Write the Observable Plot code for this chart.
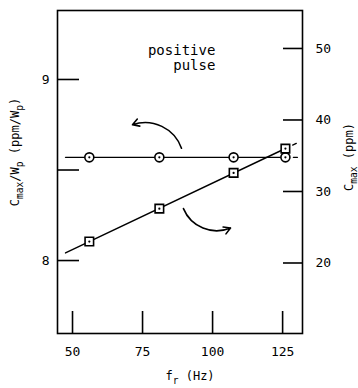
<!DOCTYPE html>
<html><head><meta charset="utf-8">
<script src="https://cdn.jsdelivr.net/npm/d3@7"></script>
<script src="https://cdn.jsdelivr.net/npm/@observablehq/plot@0.6"></script>
<style>body{margin:0;background:#fff}</style>
</head><body><div id="chart"></div>
<script>
// ---- data ----
const fr = [56, 81, 107.5, 126];              // Hz
const cmaxPerWp = [8.57, 8.57, 8.57, 8.57];   // ppm/Wp (circles, left axis)
const cmax = [23.0, 27.6, 32.6, 36.0];        // ppm (squares, right axis)
const xTicks = [50, 75, 100, 125];
const leftTicks = [8, 8.5, 9];
const leftTickLabels = ["8", "", "9"];
const rightTicks = [20, 30, 40, 50];
const fitRange = [47.5, 130.5];
const noteText = ["positive\npulse"];
const noteX = [101];
const noteY = [9.12];
const arrowX1 = [88.9, 89.6], arrowY1 = [8.62, 8.287];
const arrowX2 = [71.4, 106.4], arrowY2 = [8.75, 8.18];

const xDomain = [44.64, 132.1];
const yDomain = [7.597, 9.381];
const rightDomain = [10.14, 55.31];
const yRight = d3.scaleLinear().domain(rightDomain).range(yDomain);

// fits
const meanC = d3.mean(cmaxPerWp);
const mx = d3.mean(fr), my = d3.mean(cmax);
const slope = d3.sum(fr, (x, i) => (x - mx) * (cmax[i] - my)) / d3.sum(fr, x => (x - mx) ** 2);
const fitSq = x => yRight(my + slope * (x - mx));
const last = fr[fr.length - 1];
const circSolid = [fitRange[0], last].map(x => ({x, y: meanC}));
const circDash = [last, fitRange[1]].map(x => ({x, y: meanC}));
const sqSolid = [fitRange[0], last].map(x => ({x, y: fitSq(x)}));
const sqDash = [last, fitRange[1]].map(x => ({x, y: fitSq(x)}));

const circles = fr.map((x, i) => ({x, y: cmaxPerWp[i]}));
const squares = fr.map((x, i) => ({x, y: yRight(cmax[i])}));
const arrows = arrowX1.map((x1, i) => ({x1, y1: arrowY1[i], x2: arrowX2[i], y2: arrowY2[i]}));

const FONT = "DejaVu Sans Mono";
const plot = Plot.plot({
  width: 358, height: 388,
  marginLeft: 57, marginRight: 56, marginTop: 10, marginBottom: 55,
  style: {fontFamily: FONT, fontSize: "13px", color: "black", background: "white"},
  x: {domain: xDomain},
  y: {domain: yDomain},
  marks: [
    Plot.frame({stroke: "black", strokeWidth: 1.6}),
    Plot.axisX(xTicks, {tickSize: -22, tickFormat: () => "", label: null, strokeWidth: 1.6}),
    Plot.axisX(xTicks, {tickSize: 0, tickPadding: 13, label: null}),
    Plot.axisY(leftTicks, {tickSize: -22, tickFormat: () => "", label: null, strokeWidth: 1.6}),
    Plot.axisY(leftTicks, {tickSize: 0, tickPadding: 8, label: null, tickFormat: d => leftTickLabels[leftTicks.indexOf(d)]}),
    Plot.axisY(rightTicks.map(yRight), {anchor: "right", tickSize: -20, tickFormat: () => "", label: null, strokeWidth: 1.6}),
    Plot.axisY(rightTicks.map(yRight), {anchor: "right", tickSize: 0, tickPadding: 13, label: null, tickFormat: d => Math.round(yRight.invert(d))}),
    Plot.line(circSolid, {x: "x", y: "y", stroke: "black", strokeWidth: 1.4}),
    Plot.line(circDash, {x: "x", y: "y", stroke: "black", strokeWidth: 1.4, strokeDasharray: "4,4"}),
    Plot.line(sqSolid, {x: "x", y: "y", stroke: "black", strokeWidth: 1.4}),
    Plot.line(sqDash, {x: "x", y: "y", stroke: "black", strokeWidth: 1.4, strokeDasharray: "4,4"}),
    Plot.dot(circles, {x: "x", y: "y", r: 4.5, fill: "white", stroke: "black", strokeWidth: 1.6}),
    Plot.dot(circles, {x: "x", y: "y", r: 1.1, fill: "black"}),
    Plot.dot(squares, {x: "x", y: "y", r: 4.8, symbol: "square", fill: "white", stroke: "black", strokeWidth: 1.6}),
    Plot.dot(squares, {x: "x", y: "y", r: 1.1, fill: "black"}),
    Plot.arrow(arrows, {x1: "x1", y1: "y1", x2: "x2", y2: "y2", bend: -45, stroke: "black", strokeWidth: 1.6, headLength: 7}),
    Plot.text(noteText, {x: noteX, y: noteY, text: d => d, textAnchor: "end", lineAnchor: "middle", fontSize: 14, lineHeight: 1.1, fill: "black"})
  ]
});

const svg = d3.select(plot);
function addTitle(x, y, rotate, parts, size) {
  const t = svg.append("text")
    .attr("transform", `translate(${x},${y}) rotate(${rotate})`)
    .attr("text-anchor", "middle")
    .attr("dy", "0.35em")
    .attr("font-family", FONT)
    .attr("font-size", size)
    .attr("fill", "black");
  let shifted = false;
  parts.forEach(([s, sub]) => {
    const ts = t.append("tspan").text(s);
    if (sub && !shifted) { ts.attr("dy", size * 0.3).attr("font-size", size * 0.8); shifted = true; }
    else if (sub) { ts.attr("font-size", size * 0.8); }
    else if (shifted) { ts.attr("dy", -size * 0.3); shifted = false; }
  });
}
addTitle(15, 152, -90, [["C"], ["max", 1], ["/W"], ["p", 1], [" (ppm/W"], ["p", 1], [")"]], 12);
addTitle(349, 157, -90, [["C"], ["max", 1], [" (ppm)"]], 12);
addTitle(190, 376, 0, [["f"], ["r", 1], [" (Hz)"]], 12);

document.getElementById("chart").appendChild(plot);
</script>
</body></html>
